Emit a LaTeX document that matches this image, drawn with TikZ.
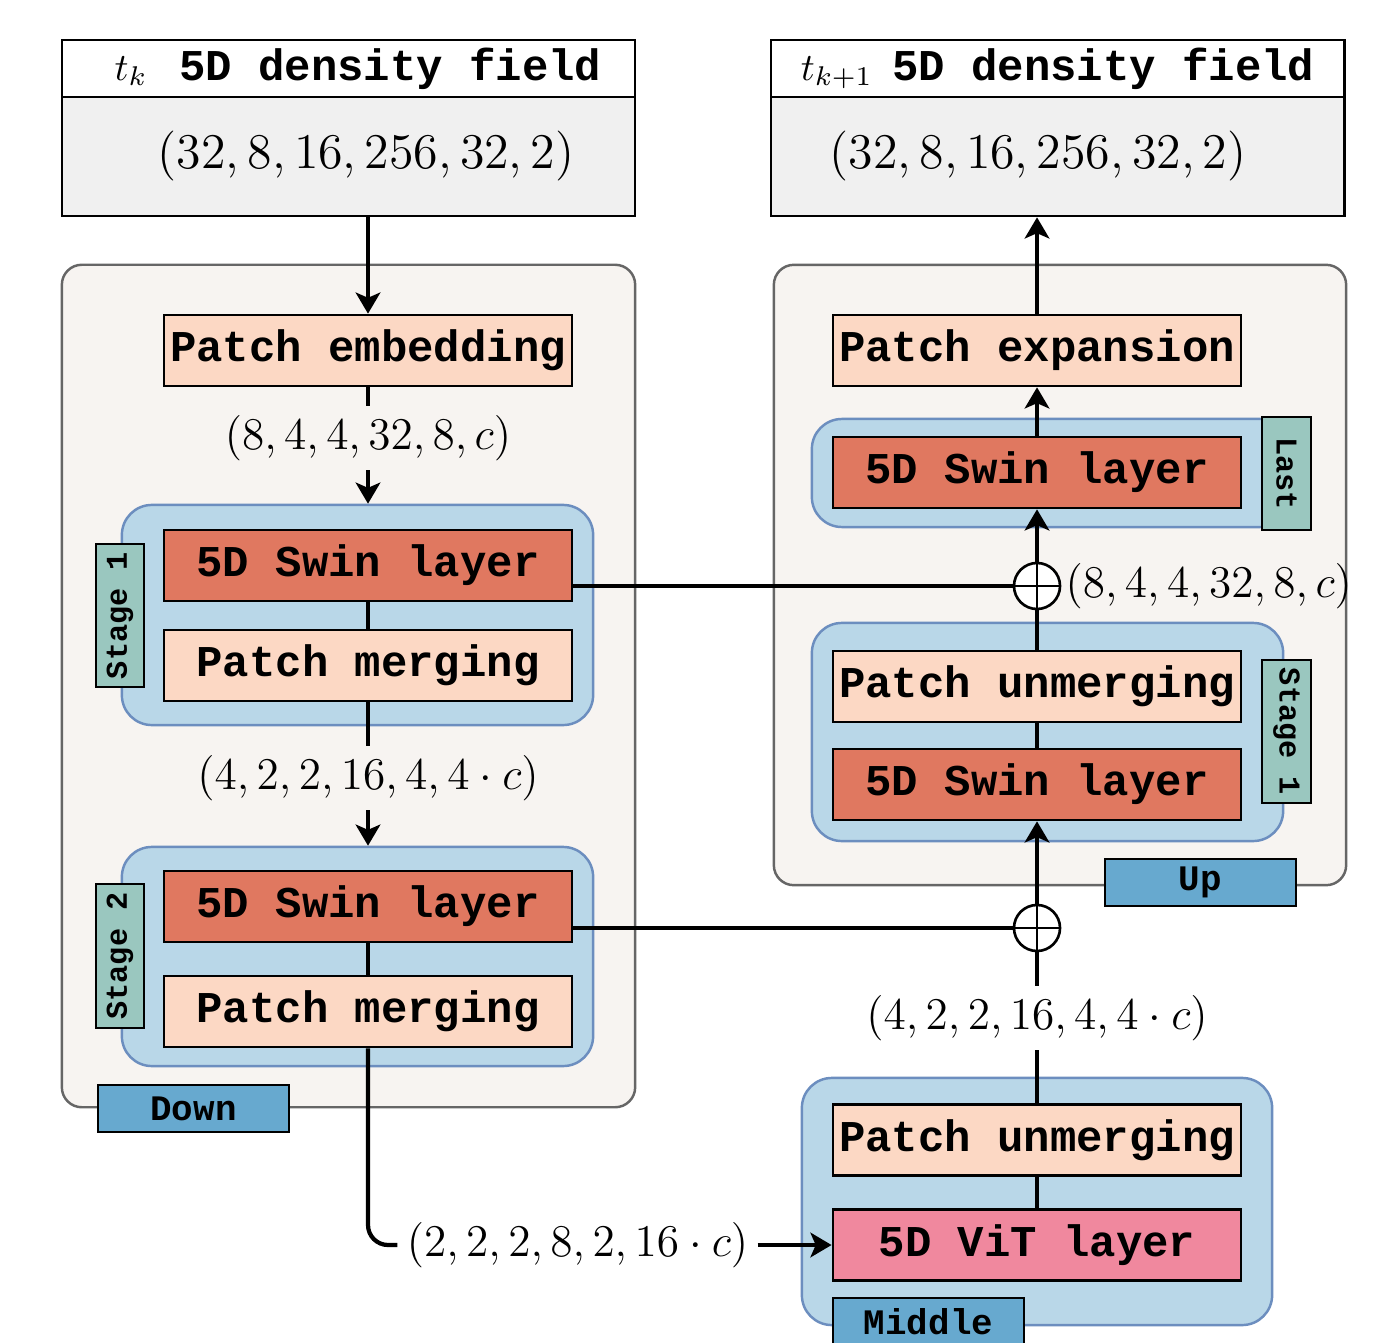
\RequirePackage{fix-cm}
\documentclass[tikz,border=0pt]{standalone}
\usepackage{fontspec}
\newfontfamily\monob{Liberation Mono}
\usetikzlibrary{arrows.meta,calc}
\newcommand{\bxfont}{\monob\bfseries\fontsize{12.5}{14}\selectfont}
\newcommand{\tgfont}{\monob\bfseries\fontsize{10.2}{12}\selectfont}
\newcommand{\stfont}{\monob\bfseries\fontsize{8.6}{10}\selectfont}
\newcommand{\labfont}{\fontsize{12.9}{15}\selectfont}
\newcommand{\bigfont}{\fontsize{14.2}{16}\selectfont}
\newcommand{\ttlfont}{\fontsize{11}{13}\selectfont}
\definecolor{peach}{HTML}{FCD8C4}
\definecolor{swin}{HTML}{E07860}
\definecolor{vitc}{HTML}{F0889E}
\definecolor{stageblue}{HTML}{B9D7E8}
\definecolor{stageedge}{HTML}{6C8EBF}
\definecolor{tealc}{HTML}{9AC7BF}
\definecolor{tagblue}{HTML}{67A9CF}
\definecolor{contc}{HTML}{F7F4F1}
\definecolor{contedge}{HTML}{666666}
\definecolor{inbody}{HTML}{F0F0F0}
\begin{document}
\begin{tikzpicture}[x=0.01cm,y=-0.01cm,
  box/.style={draw=black, line width=0.75pt, minimum width=4.08cm, minimum height=0.71cm, inner sep=0pt, font=\bxfont},
  contbox/.style={draw=contedge, fill=contc, line width=0.7pt, rounded corners=0.2cm, inner sep=0pt},
  stagebox/.style={draw=stageedge, fill=stageblue, line width=0.7pt, rounded corners=0.3cm, inner sep=0pt},
  tagt/.style={draw=black, fill=tealc, line width=0.7pt, inner sep=0pt, minimum width=1.43cm, minimum height=0.48cm, font=\stfont},
  tagb/.style={draw=black, fill=tagblue, line width=0.7pt, inner sep=0pt, minimum width=1.91cm, minimum height=0.47cm, font=\tgfont},
  inbox/.style={draw=black, line width=0.75pt, minimum width=5.73cm, inner sep=0pt},
  lab/.style={inner sep=2.5pt, font=\labfont},
  conn/.style={line width=1.2pt},
  arr/.style={line width=1.2pt, -{Stealth[length=6pt,width=7pt,inset=1.5pt]}},
  oplus/.style={circle, draw=black, fill=white, line width=0.75pt, minimum size=0.46cm, inner sep=0pt}
]
\useasboundingbox (0,0) rectangle (1391,1343);

% input / output
\node[inbox, fill=white, minimum height=0.57cm, font=\bxfont] (in1t) at (348.5,68.5) {\hspace{5.4pt}{\ttlfont$t_k$}\hspace{9pt}5D density field};
\node[inbox, fill=inbody, minimum height=1.19cm, font=\bigfont] (in1b) at (348.5,156.5) {\hspace{10pt}$(32,8,16,256,32,2)$};
\node[inbox, fill=white, minimum height=0.57cm, font=\bxfont] (outt) at (1057.5,68.5) {{\ttlfont$t_{k+1}$}\hspace{5.5pt}5D density field};
\node[inbox, fill=inbody, minimum height=1.19cm, font=\bigfont] (outb) at (1057.5,156.5) {$(32,8,16,256,32,2)$\kern11pt\relax};

% containers
\node[contbox, minimum width=5.73cm, minimum height=8.42cm] (down) at (348.5,686) {};
\node[contbox, minimum width=5.72cm, minimum height=6.20cm] (up) at (1060,575) {};
\node[stagebox, minimum width=4.71cm, minimum height=2.20cm] (st1) at (357.5,615) {};
\node[stagebox, minimum width=4.71cm, minimum height=2.19cm] (st2) at (357.5,956.5) {};
\node[stagebox, minimum width=4.78cm, minimum height=1.08cm] (stl) at (1051,473) {};
\node[stagebox, minimum width=4.71cm, minimum height=2.18cm] (stu) at (1047.5,732) {};
\node[stagebox, minimum width=4.70cm, minimum height=2.47cm] (mid) at (1037,1201.5) {};

% blocks
\node[box, fill=peach] (pe) at (368,350.5) {Patch embedding};
\node[box, fill=swin] (sw1) at (368,565.5) {5D Swin layer};
\node[box, fill=peach] (pm1) at (368,665.5) {Patch merging};
\node[box, fill=swin] (sw2) at (368,906.5) {5D Swin layer};
\node[box, fill=peach] (pm2) at (368,1011.5) {Patch merging};
\node[box, fill=peach] (pex) at (1037,350.5) {Patch expansion};
\node[box, fill=swin] (swl) at (1037,472.5) {5D Swin layer};
\node[box, fill=peach] (pu1) at (1037,686.5) {Patch unmerging};
\node[box, fill=swin] (swu) at (1037,784.5) {5D Swin layer};
\node[box, fill=peach] (pum) at (1037,1140) {Patch unmerging};
\node[box, fill=vitc] (vit) at (1037,1245) {5D ViT layer};

% labels
\node[lab] (l1) at (368,438) {$(8,4,4,32,8,c)$};
\node[lab] (l2) at (368,778) {$(4,2,2,16,4,4\cdot c)$};
\node[lab] (l3) at (577.5,1245) {$(2,2,2,8,2,16\cdot c)$};
\node[lab] (l4) at (1037,1018) {$(4,2,2,16,4,4\cdot c)$};

% adders
\node[oplus] (op1) at (1037,586) {};
\node[oplus] (op2) at (1037,928) {};
\node[lab, inner sep=1pt, anchor=west] (l5) at (op1.east) {$(8,4,4,32,8,c)$};

% connectors
\draw[arr] (in1b.south -| pe.north) -- (pe.north);
\draw[conn] (pe.south) -- (l1.north);
\draw[arr] (l1.south) -- (l1.south |- st1.north);
\draw[conn] (sw1.south) -- (pm1.north);
\draw[conn] (pm1.south) -- (l2.north);
\draw[arr] (l2.south) -- (l2.south |- st2.north);
\draw[conn] (sw2.south) -- (pm2.north);
\draw[conn, rounded corners=0.2cm] (pm2.south) |- (l3.west);
\draw[arr] (l3.east) -- (vit.west);
\draw[conn] (vit.north) -- (pum.south);
\draw[conn] (pum.north) -- (l4.south);
\draw[conn] (l4.north) -- (op2.south);
\draw[conn] (op2.west -| sw2.east) -- (op2.west);
\draw[arr] (op2.north) -- (swu.south);
\draw[conn] (swu.north) -- (pu1.south);
\draw[conn] (pu1.north) -- (op1.south);
\draw[conn] (op1.west -| sw1.east) -- (op1.west);
\draw[arr] (op1.north) -- (swl.south);
\draw[arr] (swl.north) -- (pex.south);
\draw[arr] (pex.north) -- (pex.north |- outb.south);

% plus signs
\draw[line width=0.75pt] (op1.north) -- (op1.south) (op1.west) -- (op1.east);
\draw[line width=0.75pt] (op2.north) -- (op2.south) (op2.west) -- (op2.east);

% tags
\node[tagt, rotate=90] (tg1) at (120,615.5) {Stage 1};
\node[tagt, rotate=90, minimum width=1.44cm] (tg2) at (120,956) {Stage 2};
\node[tagt, rotate=-90, minimum width=1.13cm, minimum height=0.49cm] (tgl) at (1286.5,473.5) {Last};
\node[tagt, rotate=-90, minimum height=0.49cm] (tgu) at (1286.5,731.5) {Stage 1};
\node[tagb] (tup) at (1200.5,882.5) {Up};
\node[tagb] (tdown) at (193.5,1108.5) {Down};
\node[tagb] (tmid) at (928.5,1321.5) {Middle};
\end{tikzpicture}
\end{document}
